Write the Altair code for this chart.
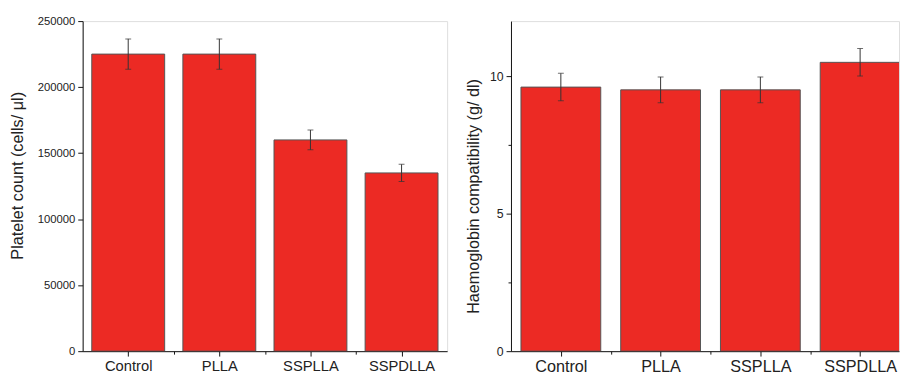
import json
import altair as alt
import pandas as pd

categories = ["Control", "PLLA", "SSPLLA", "SSPDLLA"]
platelet = [225000, 225000, 160000, 135000]
platelet_err = [11500, 11500, 7500, 6500]
haemo = [9.6, 9.5, 9.5, 10.5]
haemo_err = [0.5, 0.47, 0.47, 0.5]

left_ticks = [0, 25000, 50000, 75000, 100000, 125000, 150000, 175000, 200000, 225000, 250000]
right_ticks = [0, 2.5, 5, 7.5, 10]
x_ticks = [1, 1.5, 2, 2.5, 3, 3.5, 4]

FONT = "Liberation Sans"
BAR = "#ec2a24"
cat_js = json.dumps(categories)


def make_df(vals, errs):
    return pd.DataFrame({
        "cat": categories,
        "pos": list(range(1, len(categories) + 1)),
        "val": vals,
        "lo": [v - e for v, e in zip(vals, errs)],
        "hi": [v + e for v, e in zip(vals, errs)],
    })


def panel(vals, errs, ytitle, ydomain, yticks, major_step, xdomain, w, h, lab_fs, xlab_fs,
          title_y, title_pad):
    df = make_df(vals, errs)
    base = alt.Chart(df).transform_calculate(
        x1="datum.pos - 0.4", x2="datum.pos + 0.4"
    )
    xaxis = alt.Axis(
        values=x_ticks, title=None, grid=False,
        labelExpr=f"datum.value % 1 === 0 ? {cat_js}[datum.value - 1] : ''",
        tickSize={"condition": {"test": "datum.value % 1 !== 0", "value": 3}, "value": 5},
        labelFontSize=xlab_fs, labelFont=FONT, labelColor="#222",
        labelPadding=3, domainColor="#111", tickColor="#111",
    )
    yaxis = alt.Axis(
        values=yticks, title=ytitle, grid=False, format="d",
        labelExpr=f"datum.value % {major_step} === 0 ? datum.label : ''",
        tickSize={"condition": {"test": f"datum.value % {major_step} !== 0", "value": 3}, "value": 5},
        labelFontSize=lab_fs, labelFont=FONT, labelColor="#222", labelPadding=3,
        titleFont=FONT, titleFontSize=16.5, titleFontWeight="normal", titleColor="#222",
        titlePadding=title_pad, titleY=title_y, domainColor="#111", tickColor="#111",
    )
    xs = alt.Scale(domain=xdomain, nice=False, zero=False)
    ys = alt.Scale(domain=ydomain, nice=False)
    bars = base.mark_bar(color=BAR, stroke="#555", strokeWidth=1, clip=True).encode(
        x=alt.X("x1:Q", scale=xs, axis=xaxis),
        x2="x2:Q",
        y=alt.Y("val:Q", scale=ys, axis=yaxis),
        y2=alt.datum(0),
    )
    rule = base.mark_rule(color="#333", strokeWidth=1, clip=True).encode(
        x="pos:Q", y="lo:Q", y2="hi:Q"
    )
    cap_hi = base.mark_tick(color="#333", orient="horizontal", size=6, thickness=1, clip=True).encode(
        x="pos:Q", y="hi:Q"
    )
    cap_lo = base.mark_tick(color="#333", orient="horizontal", size=6, thickness=1, clip=True).encode(
        x="pos:Q", y="lo:Q"
    )
    return alt.layer(bars, rule, cap_hi, cap_lo).properties(width=w, height=h)


left = panel(platelet, platelet_err, "Platelet count (cells/ \u03bcl)", [0, 250000],
             left_ticks, 50000, [0.5, 4.5], 371, 336, 11.5, 15, 157, 12)
right = panel(haemo, haemo_err, "Haemoglobin compatibility (g/ dl)", [0, 12],
              right_ticks, 5, [0.5, 4.39], 395, 336, 12.5, 16.5, 178, 8)

chart = alt.hconcat(left, right, spacing=17).properties(
    padding={"left": 1, "top": 3, "right": 0, "bottom": 0}
).configure_view(stroke=None).configure(background="white")

chart.save("out.html", embed_options={"renderer": "svg", "actions": False})
